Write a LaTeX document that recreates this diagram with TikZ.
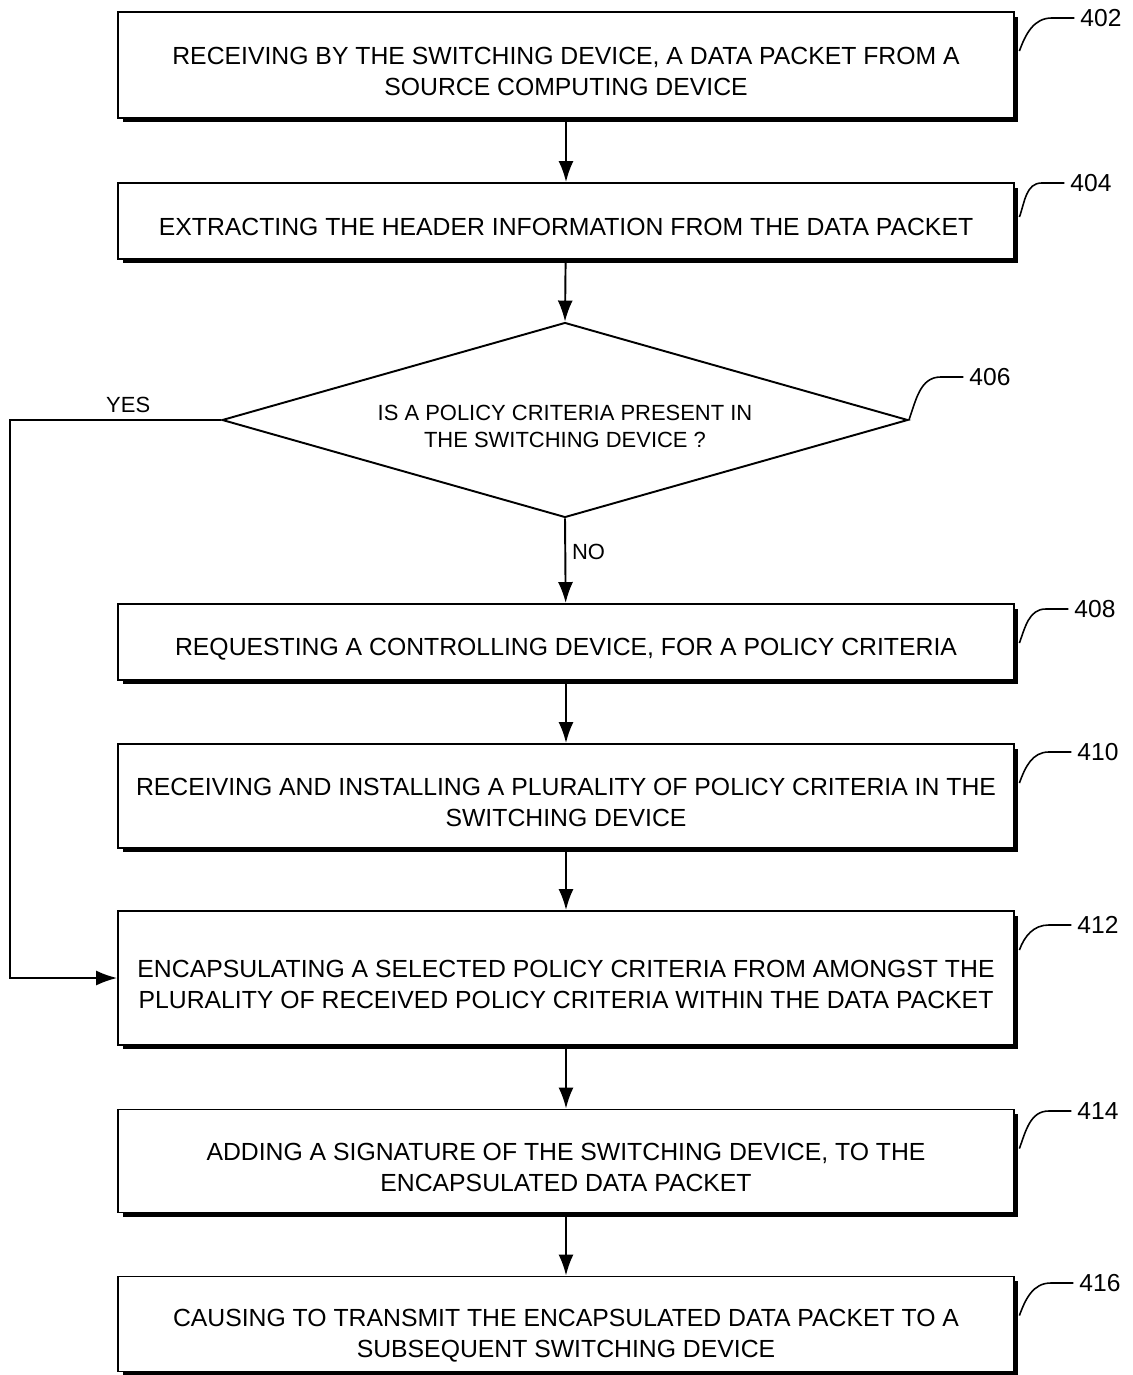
\documentclass[tikz,border=0pt]{standalone}
\usepackage{fontspec}
\setmainfont{Liberation Sans}
\usetikzlibrary{shapes.geometric,shadows,arrows.meta}
\newcommand{\lift}[1]{\rule{0pt}{#1}}

\begin{document}
\begin{tikzpicture}[x=0.02cm,y=-0.02cm,>={Latex[length=0.42cm,width=0.3cm]},
        stepbox/.style={draw, line width=1.1pt, fill=white, minimum width=17.92cm, align=center,
            font=\fontsize{14.1}{17.6}\selectfont,
            drop shadow={shadow xshift=0.09cm, shadow yshift=-0.09cm, fill=black, opacity=1}},
        decision/.style={draw, diamond, aspect=3.5, line width=1.1pt, minimum width=13.72cm,
            minimum height=3.9cm, inner sep=0pt, align=center, font=\fontsize{12.5}{15.3}\selectfont},
        flow/.style={draw, line width=1.1pt, ->},
        leader/.style={draw, line width=0.9pt},
        refnum/.style={font=\fontsize{14}{16}\selectfont},
        answer/.style={font=\fontsize{12.5}{15}\selectfont}]
        \useasboundingbox (0,0) rectangle (1132,1375);

        \node[stepbox, minimum height=2.12cm] (b402) at (566,65) {\lift{17pt}RECEIVING BY THE SWITCHING DEVICE, A DATA PACKET FROM A\\SOURCE COMPUTING DEVICE};
        \node[stepbox, minimum height=1.52cm] (b404) at (566,221) {\lift{17pt}EXTRACTING THE HEADER INFORMATION FROM THE DATA PACKET};
        \node[decision] (d406) at (565,420) {\lift{16pt}IS A POLICY CRITERIA PRESENT IN\\THE SWITCHING DEVICE ?};
        \node[stepbox, minimum height=1.52cm] (b408) at (566,642) {\lift{18pt}REQUESTING A CONTROLLING DEVICE, FOR A POLICY CRITERIA};
        \node[stepbox, minimum height=2.08cm] (b410) at (566,796) {\lift{17pt}RECEIVING AND INSTALLING A PLURALITY OF POLICY CRITERIA IN THE\\SWITCHING DEVICE};
        \node[stepbox, minimum height=2.68cm] (b412) at (566,978) {\lift{17pt}ENCAPSULATING A SELECTED POLICY CRITERIA FROM AMONGST THE\\PLURALITY OF RECEIVED POLICY CRITERIA WITHIN THE DATA PACKET};
        \node[stepbox, minimum height=2.06cm] (b414) at (566,1161) {\lift{17pt}ADDING A SIGNATURE OF THE SWITCHING DEVICE, TO THE\\ENCAPSULATED DATA PACKET};
        \node[stepbox, minimum height=1.9cm] (b416) at (566,1324) {\lift{23pt}CAUSING TO TRANSMIT THE ENCAPSULATED DATA PACKET TO A\\SUBSEQUENT SWITCHING DEVICE};

        % reference numerals
        \node[refnum] (l402) at (1101,18) {402};
        \node[refnum] (l404) at (1091,183) {404};
        \node[refnum] (l406) at (990,377) {406};
        \node[refnum] (l408) at (1095,609) {408};
        \node[refnum] (l410) at (1098,752) {410};
        \node[refnum] (l412) at (1098,925) {412};
        \node[refnum] (l414) at (1098,1111) {414};
        \node[refnum] (l416) at (1100,1283) {416};

        \coordinate (yescorner) at (10,420);

        \path[flow] (b402) -- (b404);
        \path[flow] (b404) -- (d406.north);
        \path[flow] (d406.south) -- node[answer, right, pos=0.4] {NO} (b408);
        \path[flow] (b408) -- (b410);
        \path[flow] (b410) -- (b412);
        \path[flow] (b412) -- (b414);
        \path[flow] (b414) -- (b416);
        \path[flow] (d406.west) -- node[answer, above, pos=0.44] {YES} (yescorner) |- (b412.west);

        \path[leader] ([xshift=0.09cm,yshift=-0.8cm]b402.north east) to[out=70,in=180] ([xshift=-0.45cm]l402.west) -- (l402.west);
        \path[leader] ([xshift=0.09cm,yshift=-0.7cm]b404.north east) to[out=70,in=180] ([xshift=-0.45cm]l404.west) -- (l404.west);
        \path[leader] (d406.east) to[out=70,in=180] ([xshift=-0.45cm]l406.west) -- (l406.west);
        \path[leader] ([xshift=0.09cm,yshift=-0.8cm]b408.north east) to[out=70,in=180] ([xshift=-0.45cm]l408.west) -- (l408.west);
        \path[leader] ([xshift=0.09cm,yshift=-0.8cm]b410.north east) to[out=70,in=180] ([xshift=-0.45cm]l410.west) -- (l410.west);
        \path[leader] ([xshift=0.09cm,yshift=-0.8cm]b412.north east) to[out=70,in=180] ([xshift=-0.45cm]l412.west) -- (l412.west);
        \path[leader] ([xshift=0.09cm,yshift=-0.8cm]b414.north east) to[out=70,in=180] ([xshift=-0.45cm]l414.west) -- (l414.west);
        \path[leader] ([xshift=0.09cm,yshift=-0.8cm]b416.north east) to[out=70,in=180] ([xshift=-0.45cm]l416.west) -- (l416.west);
    \end{tikzpicture}
\end{document}
